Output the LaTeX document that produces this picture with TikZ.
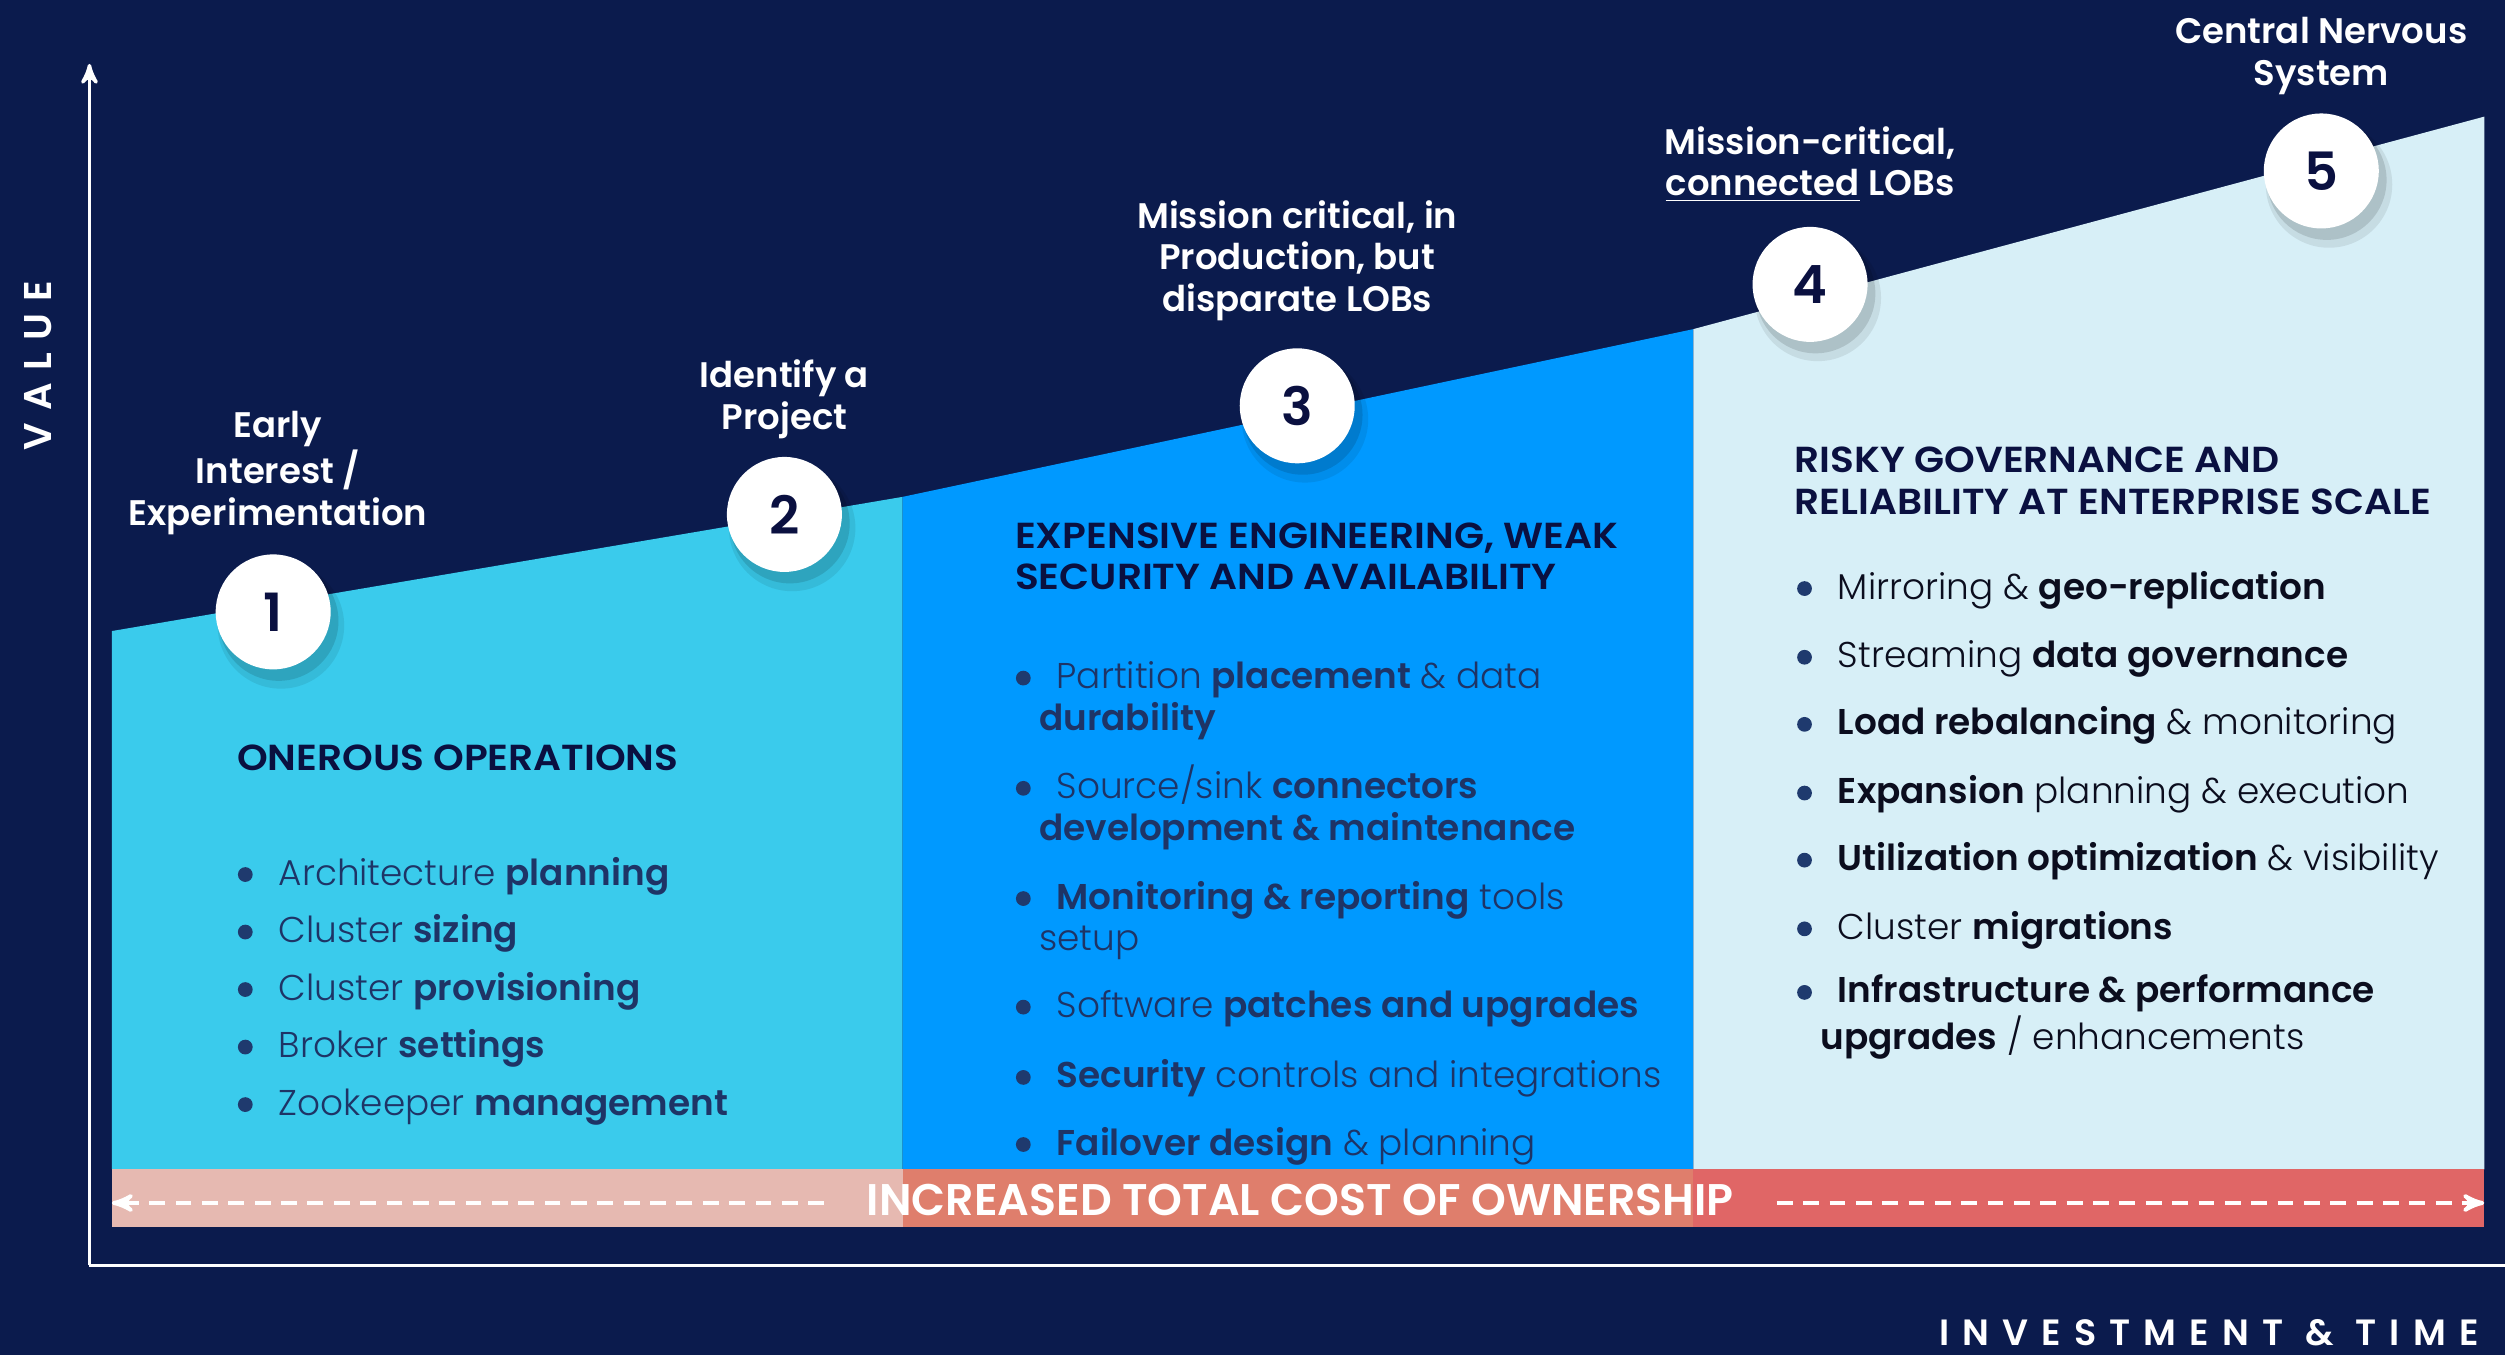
\documentclass[tikz,border=0pt]{standalone}
\usepackage{fontspec}
\setmainfont{Poppins}[BoldFont={* SemiBold}]
\newfontfamily\lightfont{Poppins}[UprightFont={* Light}, BoldFont={* SemiBold}]
\usepackage{tikz}
\usetikzlibrary{arrows, positioning, shadows}
\definecolor{navy1}{HTML}{0B1B4D}
\definecolor{ink1}{HTML}{0A1040}
\definecolor{ink2}{HTML}{1E3466}
\definecolor{ink3}{HTML}{0B0D1E}
\definecolor{cyan1}{HTML}{3ACBEC}
\definecolor{blue1}{HTML}{0099FF}
\definecolor{ice1}{HTML}{D7EFF7}
\definecolor{pink1}{HTML}{E6B9B1}
\definecolor{salmon1}{HTML}{DF7E6C}
\definecolor{red1}{HTML}{E06666}
\definecolor{dot1}{HTML}{1F3A6E}
\newcommand{\bul}{\llap{\tikz[baseline=0pt]\fill[dot1] (0,3pt) circle (2.1pt);\hspace{7.4pt}}}

\begin{document}
\begin{tikzpicture}[x=0.015976cm, y=-0.015976cm, >=stealth']
        \tikzstyle{stage}=[circle, fill=white, minimum size=1.15cm, inner sep=0pt, text=ink1,
                           font=\fontsize{15}{16}\selectfont\bfseries,
                           drop shadow={shadow xshift=2pt, shadow yshift=-3.5pt, shadow scale=1.1, opacity=0.08, fill=black},
                           drop shadow={shadow xshift=1.5pt, shadow yshift=-2.5pt, shadow scale=1.04, opacity=0.12, fill=black}]
        \tikzstyle{milestone}=[text=white, align=center, inner sep=0pt, font=\fontsize{10.1}{11.8}\selectfont\bfseries]
        \tikzstyle{heading}=[text=ink1, align=left, anchor=base west, inner sep=0pt,
                             font=\fontsize{10.3}{11.8}\selectfont\bfseries\addfontfeatures{FakeStretch=1.08}]
        \tikzstyle{item}=[text=ink2, align=left, anchor=base west, inner sep=0pt, font=\fontsize{10.2}{11.8}\lightfont]
        \tikzstyle{dasharrow}=[->, white, line width=1.1pt, dash pattern=on 4.5pt off 3pt]

        % background and frame
        \fill[navy1] (0,0) rectangle (1568,848);
        \useasboundingbox (0,0) rectangle (1568,848);

        % value area, three panels
        \fill[cyan1] (70,395) -- (565,311) -- (565,732) -- (70,732) -- cycle;
        \fill[blue1] (565,311) -- (1060,206) -- (1060,732) -- (565,732) -- cycle;
        \fill[ice1] (1060,206) -- (1555,73) -- (1555,732) -- (1060,732) -- cycle;

        % cost band
        \fill[pink1] (70,732) rectangle (565,768);
        \fill[salmon1] (565,732) rectangle (1060,768);
        \fill[red1] (1060,732) rectangle (1555,768);

        % axes
        \coordinate (origin) at (56,792);
        \coordinate (ytop) at (56,40);
        \coordinate (xend) at (1568,792);
        \draw[->, white, line width=1pt] (origin) -- (ytop);
        \draw[white, line width=1pt] (origin) -- (xend);
        \node[rotate=90, text=white, font=\fontsize{11}{12}\selectfont\bfseries\addfontfeatures{LetterSpace=32}] (value) at (24,229) {VALUE};
        \node[anchor=base east, inner sep=0pt, text=white, font=\fontsize{10.4}{12}\selectfont\bfseries\addfontfeatures{LetterSpace=36}] (invest) at (1552,842) {INVESTMENT \& TIME};

        % stages
        \node[stage] (s1) at (171,383) {1};
        \node[stage] (s2) at (491,322) {2};
        \node[stage] (s3) at (812,254) {3};
        \node[stage] (s4) at (1133,178) {4};
        \node[stage] (s5) at (1453,107) {5};

        \node[milestone] (l1) at (174,296) {Early\\Interest /\\Experimentation};
        \node[milestone] (l2) at (491,250) {Identify a\\Project};
        \node[milestone] (l3) at (812,163) {Mission critical, in\\Production, but\\disparate LOBs};
        \node[milestone] (l4) at (1133,103) {Mission-critical,\\\underline{connected} LOBs};
        \node[milestone] (l5) at (1453,35) {Central Nervous\\System};

        % panel 1
        \node[heading] (h1) at (148,482) {ONEROUS OPERATIONS};
        \node[item] (a1) at (174,554) {\bul Architecture \textbf{planning}};
        \node[item] (a2) at (174,590) {\bul Cluster \textbf{sizing}};
        \node[item] (a3) at (174,626) {\bul Cluster \textbf{provisioning}};
        \node[item] (a4) at (174,662) {\bul Broker \textbf{settings}};
        \node[item] (a5) at (174,698) {\bul Zookeeper \textbf{management}};

        % panel 2
        \node[heading] (h2) at (635,369) {EXPENSIVE ENGINEERING, WEAK\\SECURITY AND AVAILABILITY};
        \node[item] (b1) at (661,457) {\bul Partition \textbf{placement} \& data\\\hspace*{-5pt}\textbf{durability}};
        \node[item] (b2) at (661,526) {\bul Source/sink \textbf{connectors}\\\hspace*{-5pt}\textbf{development \& maintenance}};
        \node[item] (b3) at (661,595) {\bul \textbf{Monitoring \& reporting} tools\\\hspace*{-5pt}setup};
        \node[item] (b4) at (661,637) {\bul Software \textbf{patches and upgrades}};
        \node[item] (b5) at (661,681) {\bul \textbf{Security} controls and integrations};
        \node[item] (b6) at (661,723) {\bul \textbf{Failover design} \& planning};

        % panel 3
        \node[heading] (h3) at (1123,322) {RISKY GOVERNANCE AND\\RELIABILITY AT ENTERPRISE SCALE};
        \node[item, text=ink3] (c1) at (1150,375) {\bul Mirroring \& \textbf{geo-replication}};
        \node[item, text=ink3] (c2) at (1150,418) {\bul Streaming \textbf{data governance}};
        \node[item, text=ink3] (c3) at (1150,460) {\bul \textbf{Load rebalancing} \& monitoring};
        \node[item, text=ink3] (c4) at (1150,503) {\bul \textbf{Expansion} planning \& execution};
        \node[item, text=ink3] (c5) at (1150,545) {\bul \textbf{Utilization optimization} \& visibility};
        \node[item, text=ink3] (c6) at (1150,588) {\bul Cluster \textbf{migrations}};
        \node[item, text=ink3] (c7) at (1150,657) {\bul \textbf{Infrastructure \& performance}\\\hspace*{-5pt}\textbf{upgrades} / enhancements};

        % total cost of ownership
        \node[text=white, inner xsep=12pt, font=\fontsize{12.6}{13}\selectfont\bfseries] (cost) at (814,751) {INCREASED TOTAL COST OF OWNERSHIP};
        \coordinate (bandL) at (70,753);
        \coordinate (bandR) at (1555,753);
        \draw[dasharrow] (cost.west |- bandL) -- (bandL);
        \draw[dasharrow] (cost.east |- bandR) -- (bandR);
\end{tikzpicture}
\end{document}
